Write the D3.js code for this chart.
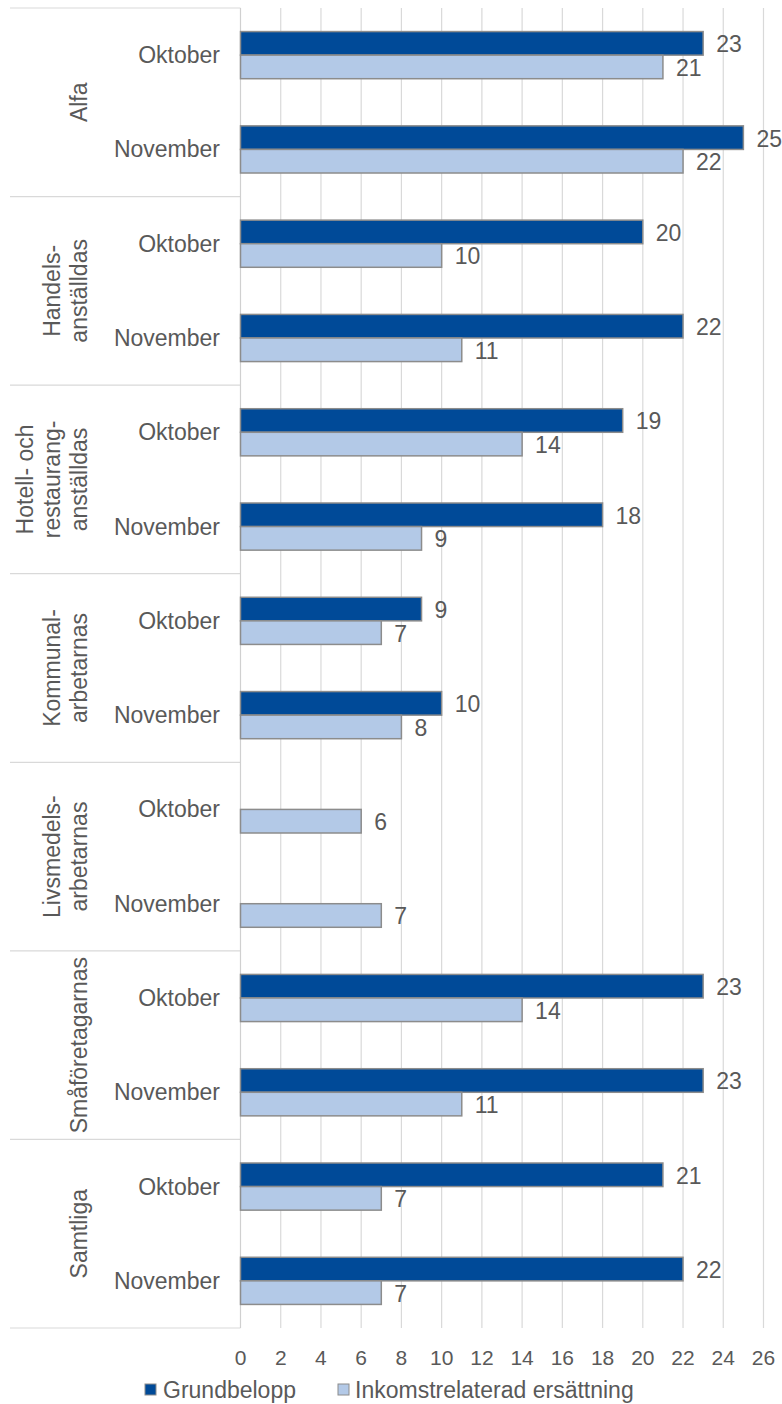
<!DOCTYPE html>
<html>
<head>
<meta charset="utf-8">
<script src="https://cdn.jsdelivr.net/npm/d3@7"></script>
<style>
  html, body { margin: 0; padding: 0; background: #fff; }
  svg { display: block; }
  text { font-family: "Liberation Sans", Arial, sans-serif; fill: #595959; }
</style>
</head>
<body>
<svg id="chart" width="782" height="1404"></svg>
<script>
// ---- data ----
const groups = [
  ["Alfa"],
  ["Handels-", "anställdas"],
  ["Hotell- och", "restaurang-", "anställdas"],
  ["Kommunal-", "arbetarnas"],
  ["Livsmedels-", "arbetarnas"],
  ["Småföretagarnas"],
  ["Samtliga"]
];
const months = ["Oktober", "November"];
const seriesNames = ["Grundbelopp", "Inkomstrelaterad ersättning"];
// values per group, month order (Oktober, November)
const grundbelopp = [23, 25, 20, 22, 19, 18, 9, 10, null, null, 23, 23, 21, 22];
const inkomstrelaterad = [21, 22, 10, 11, 14, 9, 7, 8, 6, 7, 14, 11, 7, 7];
const xTicks = [0, 2, 4, 6, 8, 10, 12, 14, 16, 18, 20, 22, 24, 26];

const colors = ["#004A98", "#B3C9E7"];
const strokeCol = "#8C8C8C";

// ---- layout ----
const svg = d3.select("#chart");
const plotTop = 8, plotBottom = 1328, x0 = 240.5, x1 = 763.5, leftEdge = 10;

const x = d3.scaleLinear().domain([0, 26]).range([x0, x1]);
const gScale = d3.scaleBand().domain(d3.range(groups.length)).range([plotTop, plotBottom]);
const mScale = d3.scaleBand().domain(d3.range(months.length)).range([0, gScale.bandwidth()]);
const sScale = d3.scaleBand().domain(d3.range(seriesNames.length))
  .range([mScale.bandwidth() * 0.25, mScale.bandwidth() * 0.75]);

// gridlines
svg.append("g").selectAll("line").data(xTicks.slice(1)).join("line")
  .attr("x1", d => x(d)).attr("x2", d => x(d))
  .attr("y1", plotTop).attr("y2", plotBottom)
  .attr("stroke", "#D9D9D9").attr("stroke-width", 1.2);

// group separators
const seps = d3.range(groups.length + 1).map(i => i < groups.length ? gScale(i) : plotBottom);
svg.append("g").selectAll("line").data(seps).join("line")
  .attr("x1", leftEdge).attr("x2", x0)
  .attr("y1", d => d).attr("y2", d => d)
  .attr("stroke", "#D9D9D9").attr("stroke-width", 1.2);

// vertical axis line
svg.append("line").attr("x1", x0).attr("x2", x0).attr("y1", plotTop).attr("y2", plotBottom)
  .attr("stroke", "#D0D0D0").attr("stroke-width", 1.2);

// rows
const rows = [];
groups.forEach((g, gi) => months.forEach((m, mi) => {
  rows.push({ gi, mi, month: m, vals: [grundbelopp[gi * 2 + mi], inkomstrelaterad[gi * 2 + mi]] });
}));

const rowG = svg.append("g").selectAll("g").data(rows).join("g")
  .attr("transform", d => `translate(0,${gScale(d.gi) + mScale(d.mi)})`);

rowG.append("text")
  .attr("x", 220).attr("y", mScale.bandwidth() / 2)
  .attr("text-anchor", "end").attr("dominant-baseline", "central")
  .attr("font-size", 23)
  .text(d => d.month);

const bars = rowG.selectAll("g.bar").data(d => d.vals.map((v, si) => ({ v, si })).filter(e => e.v != null))
  .join("g").attr("class", "bar");

bars.append("rect")
  .attr("x", x(0))
  .attr("y", d => sScale(d.si))
  .attr("width", d => x(d.v) - x(0))
  .attr("height", sScale.bandwidth())
  .attr("fill", d => colors[d.si])
  .attr("stroke", strokeCol).attr("stroke-width", 1.5);

bars.append("text")
  .attr("x", d => x(d.v) + 13)
  .attr("y", d => sScale(d.si) + sScale.bandwidth() / 2 + 1)
  .attr("dominant-baseline", "central")
  .attr("font-size", 23)
  .text(d => d.v);

// group labels (rotated)
const lineGap = 27;
svg.append("g").selectAll("text").data(groups).join("text")
  .attr("transform", (d, i) => `translate(87,${gScale(i) + gScale.bandwidth() / 2}) rotate(-90)`)
  .attr("text-anchor", "middle")
  .attr("font-size", 23)
  .each(function (d) {
    const t = d3.select(this);
    d.forEach((line, li) => {
      t.append("tspan").attr("x", 0).attr("y", -(d.length - 1 - li) * lineGap).text(line);
    });
  });

// x tick labels
svg.append("g").selectAll("text").data(xTicks).join("text")
  .attr("x", d => x(d)).attr("y", 1365)
  .attr("text-anchor", "middle")
  .attr("font-size", 21)
  .text(d => d);

// legend
const legendItems = [
  { name: seriesNames[0], sx: 145, tx: 163 },
  { name: seriesNames[1], sx: 338, tx: 355 }
];
const lg = svg.append("g").selectAll("g").data(legendItems).join("g");
lg.append("rect")
  .attr("x", d => d.sx).attr("y", 1384).attr("width", 11).attr("height", 11)
  .attr("fill", (d, i) => colors[i]).attr("stroke", strokeCol).attr("stroke-width", 1);
lg.append("text")
  .attr("x", d => d.tx).attr("y", 1398)
  .attr("font-size", 23)
  .text(d => d.name);
</script>
</body>
</html>
